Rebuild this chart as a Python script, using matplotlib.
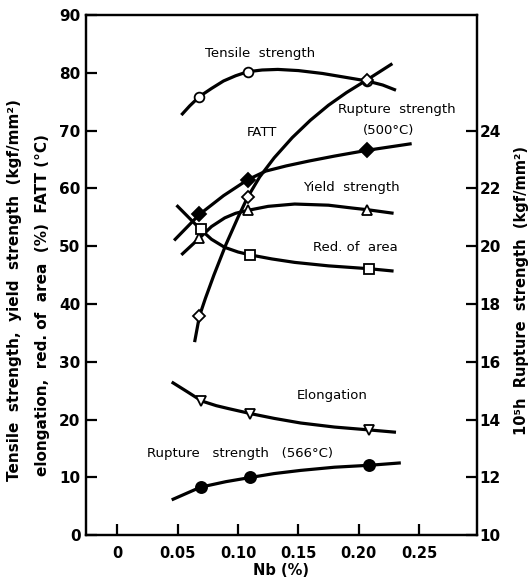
import matplotlib
matplotlib.use("Agg")
import matplotlib.pyplot as plt

plt.rcParams['font.family'] = 'DejaVu Sans'

# -------------------------------------------------
# Values (Nb content in wt. %)

# traced curves (left axis)
tensile_x = [0.053, 0.060, 0.068, 0.078, 0.088, 0.098, 0.108, 0.120, 0.133, 0.150,
             0.170, 0.190, 0.207, 0.220, 0.231]
tensile_y = [72.7, 74.3, 75.9, 77.3, 78.6, 79.5, 80.2, 80.5, 80.6, 80.4,
             79.9, 79.2, 78.6, 77.9, 77.0]

fatt_x = [0.064, 0.068, 0.073, 0.080, 0.090, 0.100, 0.108, 0.118, 0.130, 0.145,
          0.160, 0.175, 0.190, 0.207, 0.228]
fatt_y = [33.4, 37.9, 41.0, 45.0, 50.3, 55.0, 58.5, 62.0, 65.3, 68.8,
          71.8, 74.4, 76.6, 78.8, 81.6]

yield_x = [0.053, 0.068, 0.078, 0.089, 0.098, 0.108, 0.125, 0.147, 0.175, 0.195, 0.208, 0.229]
yield_y = [48.5, 51.4, 53.4, 54.9, 55.7, 56.2, 56.9, 57.3, 57.1, 56.6, 56.3, 55.7]

area_x = [0.049, 0.069, 0.078, 0.089, 0.100, 0.110, 0.128, 0.147, 0.175, 0.209, 0.229]
area_y = [57.1, 52.9, 51.2, 49.8, 49.0, 48.5, 47.8, 47.2, 46.6, 46.1, 45.7]

elong_x = [0.045, 0.058, 0.070, 0.082, 0.092, 0.111, 0.130, 0.152, 0.180, 0.209, 0.231]
elong_y = [26.5, 24.8, 23.2, 22.4, 21.9, 21.0, 20.2, 19.4, 18.7, 18.2, 17.8]

# traced curves (right axis, 10^5 h rupture strength)
rup500_x = [0.047, 0.068, 0.088, 0.108, 0.123, 0.140, 0.159, 0.180, 0.207, 0.244]
rup500_y = [20.2, 21.1, 21.75, 22.3, 22.6, 22.78, 22.95, 23.12, 23.32, 23.55]

rup566_x = [0.045, 0.069, 0.090, 0.111, 0.130, 0.152, 0.180, 0.210, 0.235]
rup566_y = [11.22, 11.66, 11.85, 12.0, 12.13, 12.24, 12.35, 12.42, 12.5]

# measured points
pts_x = [0.068, 0.108, 0.207]
tensile_pts = [75.9, 80.2, 78.6]
fatt_pts = [37.9, 58.5, 78.8]
yield_pts = [51.4, 56.2, 56.3]
rup500_pts = [21.1, 22.3, 23.32]

pts2_x = [0.069, 0.110, 0.209]
area_pts = [52.9, 48.5, 46.1]
elong_pts = [23.2, 21.0, 18.2]
rup566_pts = [11.66, 12.0, 12.42]

x_ticks = [0, 0.05, 0.10, 0.15, 0.20, 0.25]
x_labels = ["0", "0.05", "0.10", "0.15", "0.20", "0.25"]
left_ticks = [0, 10, 20, 30, 40, 50, 60, 70, 80, 90]
right_ticks = [10, 12, 14, 16, 18, 20, 22, 24]

# -----------
# Figure set

fig = plt.figure(figsize=(5.28, 5.81), dpi=100)
ax = fig.add_axes([0.163, 0.079, 0.740, 0.895])
ax2 = ax.twinx()

ax.set_xlim(-0.026, 0.298)
ax.set_ylim(0, 90)
ax2.set_ylim(10, 28)

lw = 2.3
line_kw = dict(color="black", lw=lw, solid_capstyle="butt", solid_joinstyle="round", zorder=2)
mk_kw = dict(color="black", ls="none", mew=1.3, zorder=4, clip_on=False)

# ------------
# Left series

ax.plot(tensile_x, tensile_y, **line_kw)
ax.plot(fatt_x, fatt_y, **line_kw)
ax.plot(yield_x, yield_y, **line_kw)
ax.plot(area_x, area_y, **line_kw)
ax.plot(elong_x, elong_y, **line_kw)

ax.plot(pts_x, tensile_pts, marker="o", ms=7, mfc="white", **mk_kw)
ax.plot(pts_x, fatt_pts, marker="D", ms=6.5, mfc="white", **mk_kw)
ax.plot(pts_x, yield_pts, marker="^", ms=7, mfc="white", **mk_kw)
ax.plot(pts2_x, area_pts, marker="s", ms=7.5, mfc="white", **mk_kw)
ax.plot(pts2_x, elong_pts, marker="v", ms=7, mfc="white", **mk_kw)

# -------------
# Right series

ax2.plot(rup500_x, rup500_y, **line_kw)
ax2.plot(rup566_x, rup566_y, **line_kw)
ax2.plot(pts_x, rup500_pts, marker="D", ms=7, mfc="black", **mk_kw)
ax2.plot(pts2_x, rup566_pts, marker="o", ms=8, mfc="black", **mk_kw)

# -----------------
# Axes appearance

for a in (ax, ax2):
    for s in a.spines.values():
        s.set_linewidth(1.6)

ax.set_xticks(x_ticks)
ax.set_xticklabels(x_labels, fontsize=10.5, fontweight="bold")
ax.set_yticks(left_ticks)
ax.set_yticklabels([str(t) for t in left_ticks], fontsize=11, fontweight="bold")
ax.tick_params(axis="both", direction="in", length=8, width=1.6, pad=4)
ax.tick_params(axis="x", pad=8)

ax2.set_yticks(right_ticks)
ax2.set_yticklabels([str(t) for t in right_ticks], fontsize=11, fontweight="bold")
ax2.tick_params(axis="y", direction="in", length=8, width=1.6, pad=2)

ax.set_xlabel("Nb (%)", fontsize=10.5, fontweight="bold", labelpad=1)

fig.text(0.028, 0.50, "Tensile  strength,  yield  strength  (kgf/mm\u00b2)",
         rotation=90, ha="center", va="center", fontsize=11, fontweight="bold")
fig.text(0.080, 0.475, "elongation,  red. of  area  (%)  FATT (\u00b0C)",
         rotation=90, ha="center", va="center", fontsize=11, fontweight="bold")
fig.text(0.988, 0.50, "10\u2075h  Rupture  strength  (kgf/mm\u00b2)",
         rotation=90, ha="center", va="center", fontsize=10.5, fontweight="bold")

# ------------------
# Curve annotations

txt = dict(fontsize=9.5, ha="center", va="center")
ax.text(0.118, 83.4, "Tensile  strength", **txt)
ax.text(0.120, 69.7, "FATT", **txt)
ax.text(0.232, 73.6, "Rupture  strength", **txt)
ax.text(0.225, 70.1, "(500\u00b0C)", **txt)
ax.text(0.194, 60.2, "Yield  strength", **txt)
ax.text(0.197, 49.8, "Red. of  area", **txt)
ax.text(0.178, 24.2, "Elongation", **txt)
ax.text(0.102, 14.2, "Rupture   strength   (566\u00b0C)", **txt)

fig.savefig("out.png", dpi=100)
